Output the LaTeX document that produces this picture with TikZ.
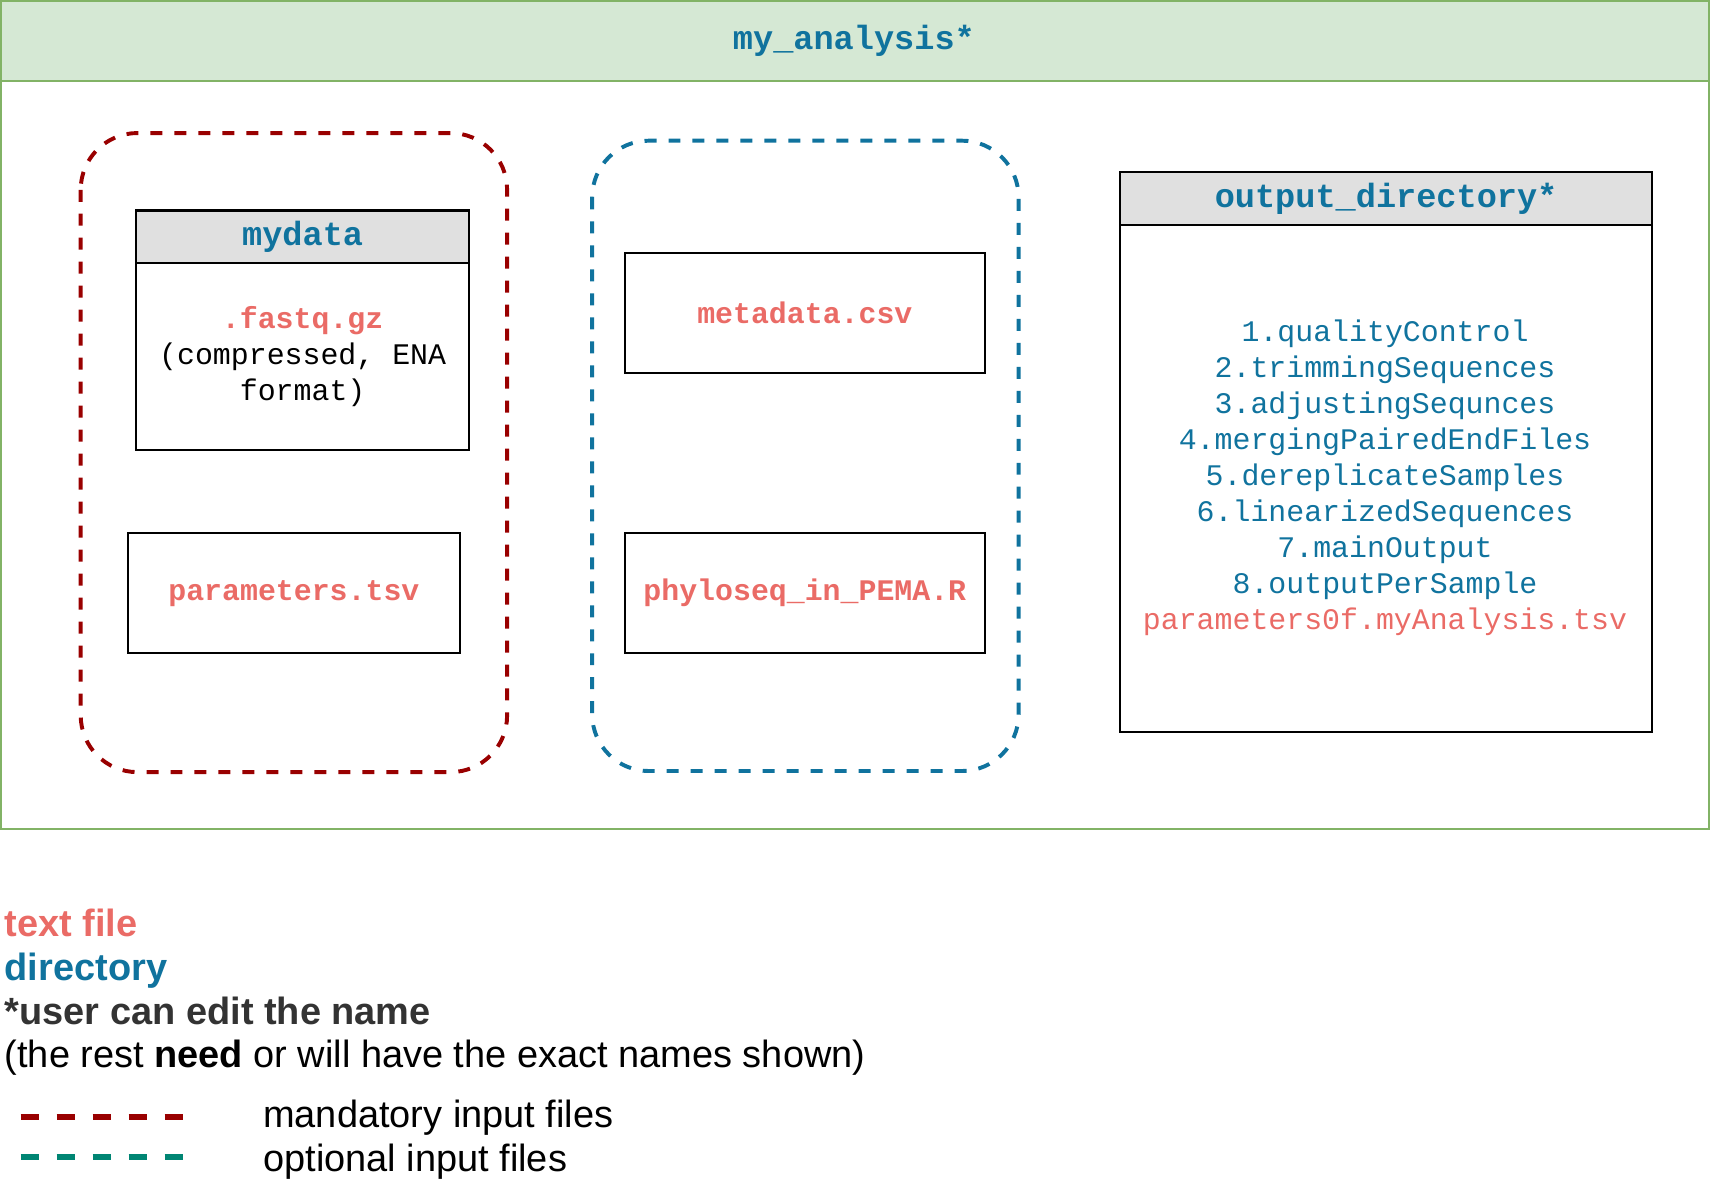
\documentclass[tikz,border=0pt]{standalone}
\usepackage{fontspec}
\setmainfont{Liberation Sans}
\setsansfont{Liberation Sans}
\setmonofont{Liberation Mono}
\definecolor{dirblue}{HTML}{10739E}
\definecolor{txtred}{HTML}{EA6B66}
\definecolor{mandred}{HTML}{990000}
\definecolor{optgreen}{HTML}{008573}
\definecolor{hdrgreen}{HTML}{D5E8D4}
\definecolor{hdrgreenline}{HTML}{82B366}
\definecolor{greyhdr}{HTML}{E0E0E0}
\definecolor{darktxt}{HTML}{333333}
\newcommand\monofnt{\fontsize{13.7pt}{16.5pt}\selectfont\ttfamily}
\newcommand\hdrfnt{\fontsize{15.4pt}{18.5pt}\selectfont\ttfamily\bfseries}
\newcommand\legfnt{\fontsize{17.4pt}{20pt}\selectfont\rmfamily}
\tikzset{
  filebox/.style={draw=black, line width=1pt, inner sep=0pt},
  lanebox/.style={draw=black, line width=1pt, inner sep=0pt},
  lanehdr/.style={draw=black, line width=1pt, fill=greyhdr, inner sep=0pt,
    minimum height=24pt, font=\hdrfnt, text=dirblue},
  filelabel/.style={font=\monofnt\bfseries, text=txtred, inner sep=0pt},
  group/.style={line width=1.8pt, dash pattern=on 5.5pt off 5.5pt, rounded corners=26pt},
  legtext/.style={font=\legfnt, inner sep=0pt, anchor=base west},
  legdash/.style={line width=2.75pt, dash pattern=on 8.25pt off 8.25pt}
}
\begin{document}
\begin{tikzpicture}[x=0.5pt,y=-0.5pt]
\useasboundingbox (0,0) rectangle (1568,1091);
% outer container
\draw[hdrgreenline, line width=1pt, fill=hdrgreen] (1,1) rectangle (1567,74);
\draw[hdrgreenline, line width=1pt] (1,74) -- (1,760) -- (1567,760) -- (1567,74);
\node[font=\hdrfnt, text=dirblue, inner sep=0pt] (title) at (783,37) {my\_analysis*};
% dashed groups
\draw[group, mandred] (74,122) rectangle (465,708);
\draw[group, dirblue] (543,129) rectangle (934,707);
% mydata lane
\node[lanebox, minimum width=152.5pt, minimum height=110pt] (mydata) at (277.5,303) {};
\node[lanehdr, minimum width=152.5pt, anchor=north] (mydatah) at (mydata.north) {mydata};
\node[font=\monofnt, align=center, inner sep=0pt] (fastq) at (277.5,327)
  {\textcolor{txtred}{\bfseries .fastq.gz}\\(compressed, ENA\\format)};
% parameters
\node[filebox, minimum width=152.5pt, minimum height=55pt] (params) at (269.5,544) {};
\node[filelabel] (paramst) at (params.center) {parameters.tsv};
% metadata
\node[filebox, minimum width=165pt, minimum height=55pt] (meta) at (738,287) {};
\node[filelabel] (metat) at (meta.center) {metadata.csv};
% phyloseq
\node[filebox, minimum width=165pt, minimum height=55pt] (phylo) at (738,544) {};
\node[filelabel] (phylot) at (phylo.center) {phyloseq\_in\_PEMA.R};
% output directory lane
\node[lanebox, minimum width=244pt, minimum height=256.5pt] (outdir) at (1271,414.5) {};
\node[lanehdr, minimum width=244pt, anchor=north] (outdirh) at (outdir.north) {output\_directory*};
\node[font=\monofnt, align=center, inner sep=0pt, text=dirblue] (outlist) at (1270,438)
  {1.qualityControl\\2.trimmingSequences\\3.adjustingSequnces\\4.mergingPairedEndFiles\\5.dereplicateSamples\\6.linearizedSequences\\7.mainOutput\\8.outputPerSample\\\textcolor{txtred}{parameters0f.myAnalysis.tsv}};
% legend
\node[legtext, text=txtred, font=\legfnt\bfseries] (lg1) at (4,859) {text file};
\node[legtext, text=dirblue, font=\legfnt\bfseries] (lg2) at (4,899) {directory};
\node[legtext, text=darktxt, font=\legfnt\bfseries] (lg3) at (4,939) {*user can edit the name};
\node[legtext] (lg4) at (4,979) {(the rest \textbf{need} or will have the exact names shown)};
\coordinate (m1) at (19,1024);
\coordinate (m2) at (168,1024);
\coordinate (o1) at (19,1061);
\coordinate (o2) at (168,1061);
\draw[legdash, mandred] (m1) -- (m2);
\draw[legdash, optgreen] (o1) -- (o2);
\node[legtext] (lg5) at (241,1034) {mandatory input files};
\node[legtext] (lg6) at (241,1074) {optional input files};
\end{tikzpicture}
\end{document}
